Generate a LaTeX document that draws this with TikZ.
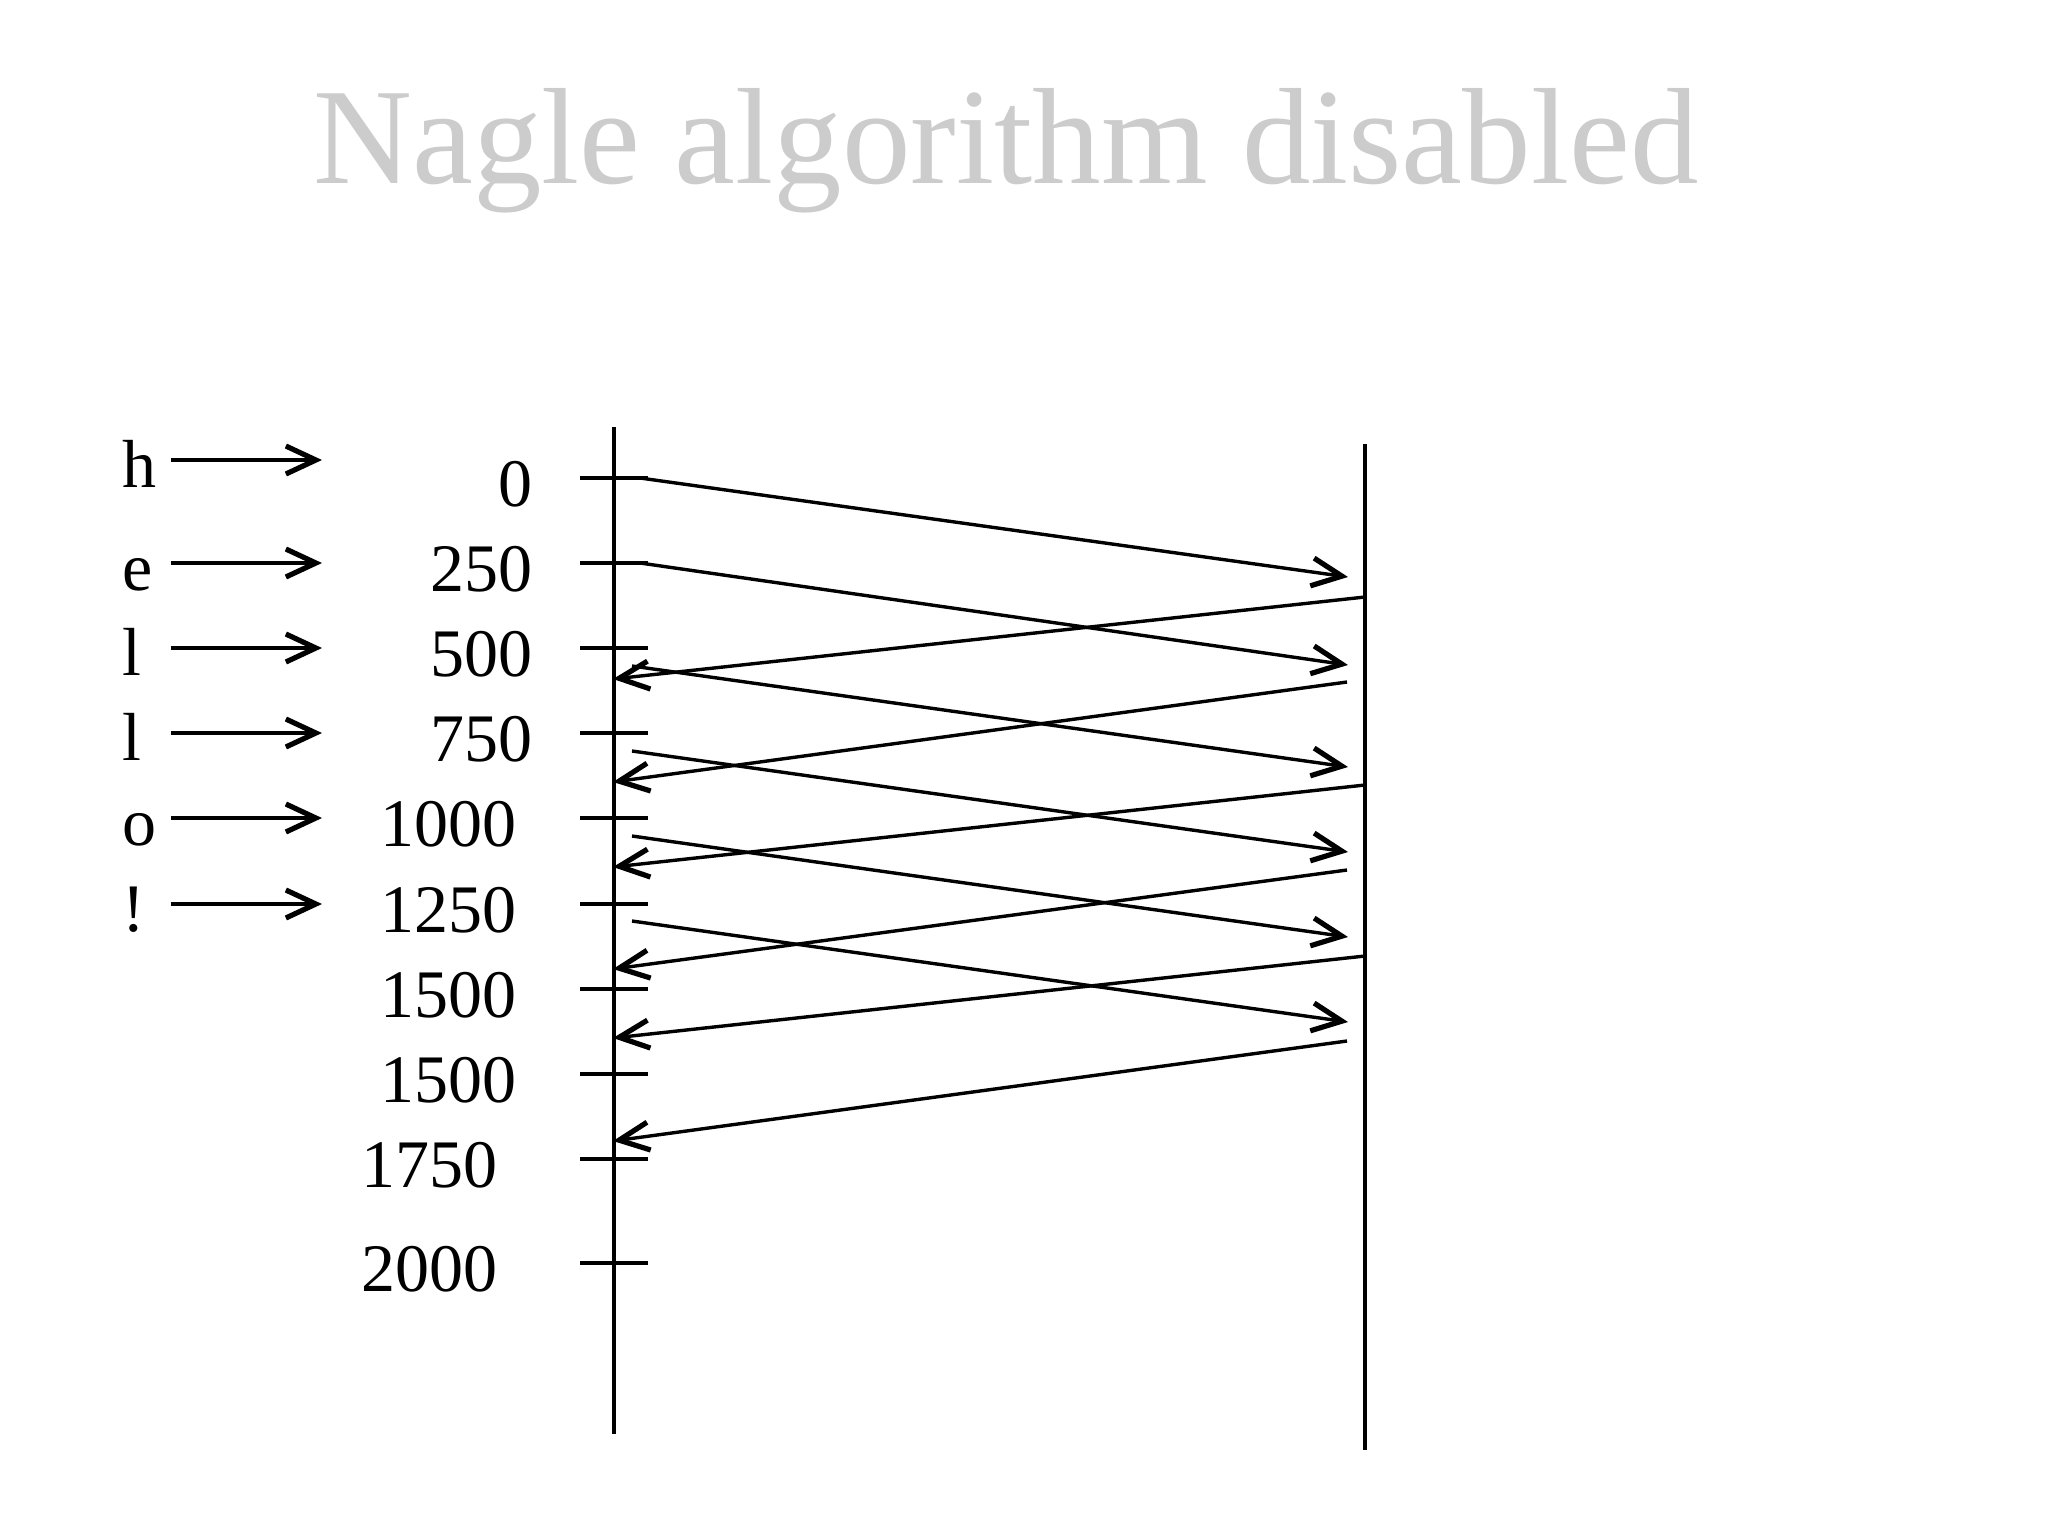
\documentclass[tikz,border=0pt]{standalone}
\usepackage{fontspec}
\setmainfont{Liberation Serif}
\usetikzlibrary{arrows.meta}
\definecolor{titlegray}{RGB}{204,204,204}
\begin{document}
\begin{tikzpicture}[x=0.5pt,y=-0.5pt,
  ln/.style={line width=1.7pt},
  msg/.style={line width=1.7pt,-{Straight Barb[length=15pt,width=14pt,line width=2.6pt]}},
  lbl/.style={font=\fontsize{34}{40}\selectfont, inner sep=0pt, anchor=base east},
  chr/.style={font=\fontsize{34}{40}\selectfont, inner sep=0pt, anchor=base west},
]
\useasboundingbox (0,0) rectangle (2048,1536);
\fill[white] (0,0) rectangle (2048,1536);

% title
\node[font=\fontsize{68.5}{80}\selectfont, text=titlegray, inner sep=0pt, anchor=base] (title) at (1006,183) {Nagle algorithm disabled};

% axes
\coordinate (Ltop) at (614,427);
\coordinate (Lbot) at (614,1434);
\coordinate (Rtop) at (1365,444);
\coordinate (Rbot) at (1365,1450);
\draw[ln] (Ltop) -- (Lbot);
\draw[ln] (Rtop) -- (Rbot);

% ticks and labels
\foreach \n/\y/\t/\lx in {1/478/0/533, 2/563/250/533, 3/648/500/533, 4/733/750/533,
                          5/818/1000/517, 6/904/1250/517, 7/989/1500/517, 8/1074/1500/517,
                          9/1159/1750/498, 10/1263/2000/498}{
  \coordinate (tkL\n) at (580,\y);
  \coordinate (tkR\n) at (648,\y);
  \draw[ln] (tkL\n) -- (tkR\n);
  \node[lbl] (lab\n) at (\lx,\y+28) {\t};
}

% characters typed
\foreach \n/\y/\c in {1/460/h, 2/563/e, 3/648/l, 4/733/l, 5/818/o, 6/904/!}{
  \node[chr] (ch\n) at (122,\y+27) {\c};
  \coordinate (cs\n) at (171,\y);
  \coordinate (ce\n) at (322,\y);
  \draw[msg] (cs\n) -- (ce\n);
}

% outgoing segments
\foreach \n/\sx/\sy/\ey in {1/640/478/577, 2/640/563/665, 3/632/666/767, 4/632/751/852, 5/632/836/937, 6/632/921/1022}{
  \coordinate (os\n) at (\sx,\sy);
  \coordinate (oe\n) at (1348,\ey);
  \draw[msg] (os\n) -- (oe\n);
}

% incoming acks
\foreach \n/\sx/\sy/\ey in {1/1365/597/679, 2/1347/682/782, 3/1365/785/867, 4/1347/870/969, 5/1365/956/1038, 6/1347/1041/1141}{
  \coordinate (is\n) at (\sx,\sy);
  \coordinate (ie\n) at (613,\ey);
  \draw[msg] (is\n) -- (ie\n);
}
\end{tikzpicture}
\end{document}
